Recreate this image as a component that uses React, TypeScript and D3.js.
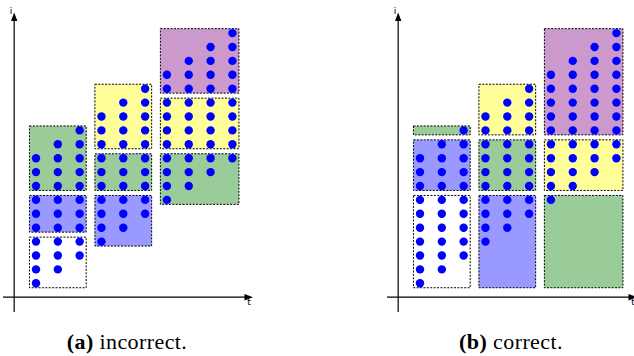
import React from 'react';
import * as d3 from 'd3';

// iteration space: column t holds points i = colLow[t] .. colHigh[t]
const columns = [0, 1, 2, 3, 4, 5, 6, 7, 8, 9];
const colLow = [0, 1, 2, 3, 4, 5, 6, 7, 8, 9];
const colHigh = [9, 10, 11, 12, 13, 14, 15, 16, 17, 18];

// tiles: [tFrom, tTo, iFrom, iTo, colour]
type Tile = [number, number, number, number, string];

const tilesIncorrect: Tile[] = [
  [0, 2, 0, 3, 'white'],
  [0, 2, 4, 6, 'blue'],
  [0, 2, 7, 11, 'green'],
  [3, 5, 3, 6, 'blue'],
  [3, 5, 7, 9, 'green'],
  [3, 5, 10, 14, 'yellow'],
  [6, 9, 6, 9, 'green'],
  [6, 9, 10, 13, 'yellow'],
  [6, 9, 14, 18, 'purple'],
];

const tilesCorrect: Tile[] = [
  [0, 2, 0, 6, 'white'],
  [0, 2, 7, 10, 'blue'],
  [0, 2, 11, 11, 'green'],
  [3, 5, 0, 6, 'blue'],
  [3, 5, 7, 10, 'green'],
  [3, 5, 11, 14, 'yellow'],
  [6, 9, 0, 6, 'green'],
  [6, 9, 7, 10, 'yellow'],
  [6, 9, 11, 18, 'purple'],
];

const palette: Record<string, string> = {
  white: '#ffffff',
  blue: '#9999ff',
  green: '#99cc99',
  yellow: '#ffff99',
  purple: '#cc99cc',
};

const panels = [
  { tag: '(a)', label: ' incorrect.', tiles: tilesIncorrect, dx: 0 },
  { tag: '(b)', label: ' correct.', tiles: tilesCorrect, dx: 384 },
];

const x = d3.scaleLinear().domain([0, 9]).range([36, 232.4]);
const y = d3.scaleLinear().domain([0, 18]).range([283.3, 33.1]);

const Panel: React.FC<{ tag: string; label: string; tiles: Tile[]; dx: number }> = ({ tag, label, tiles, dx }) => {
  const sx = x(1) - x(0);
  const sy = y(0) - y(1);
  const padX = 0.3 * sx;
  const padY = 0.32 * sy;
  const ax = x(-1); // vertical axis
  const ay = y(-1); // horizontal axis
  const points = columns.flatMap(t => d3.range(colLow[t], colHigh[t] + 1).map(i => [t, i]));

  return (
    <g transform={`translate(${dx},0)`}>
      {/* axes */}
      <line x1={ax} x2={ax} y1={312} y2={20} stroke="#000" strokeWidth={1.2} />
      <path d={`M${ax},12.5 L${ax - 3.2},21 L${ax + 3.2},21 Z`} fill="#000" />
      <line x1={3} x2={246} y1={ay} y2={ay} stroke="#000" strokeWidth={1.2} />
      <path d={`M253,${ay} L244.5,${ay - 3.2} L244.5,${ay + 3.2} Z`} fill="#000" />
      <text x={ax - 2} y={14} fontSize={9} textAnchor="end" fontFamily="'DejaVu Sans', sans-serif">i</text>
      <text x={249} y={305} fontSize={9} textAnchor="middle" fontFamily="'DejaVu Sans', sans-serif">t</text>

      {/* tiles */}
      {tiles.map(([t0, t1, i0, i1, c], k) => (
        <rect
          key={k}
          x={x(t0) - padX}
          y={y(i1) - padY}
          width={x(t1) - x(t0) + 2 * padX}
          height={y(i0) - y(i1) + 2 * padY}
          fill={palette[c]}
          stroke="#000"
          strokeWidth={1}
          strokeDasharray="2 1.4"
        />
      ))}

      {/* points */}
      {points.map(([t, i]) => (
        <circle key={`${t}-${i}`} cx={x(t)} cy={y(i)} r={4.2} fill="#0000ff" />
      ))}

      <text x={127} y={349} fontSize={22} letterSpacing={0.4} textAnchor="middle" fontFamily="'Liberation Serif', serif">
        <tspan fontWeight="bold">{tag}</tspan>
        {label}
      </text>
    </g>
  );
};

export default function App() {
  return (
    <svg width={634} height={356} style={{ position: 'absolute', left: 0, top: 0, background: '#fff' }}>
      {panels.map(p => (
        <Panel key={p.tag} {...p} />
      ))}
    </svg>
  );
}
